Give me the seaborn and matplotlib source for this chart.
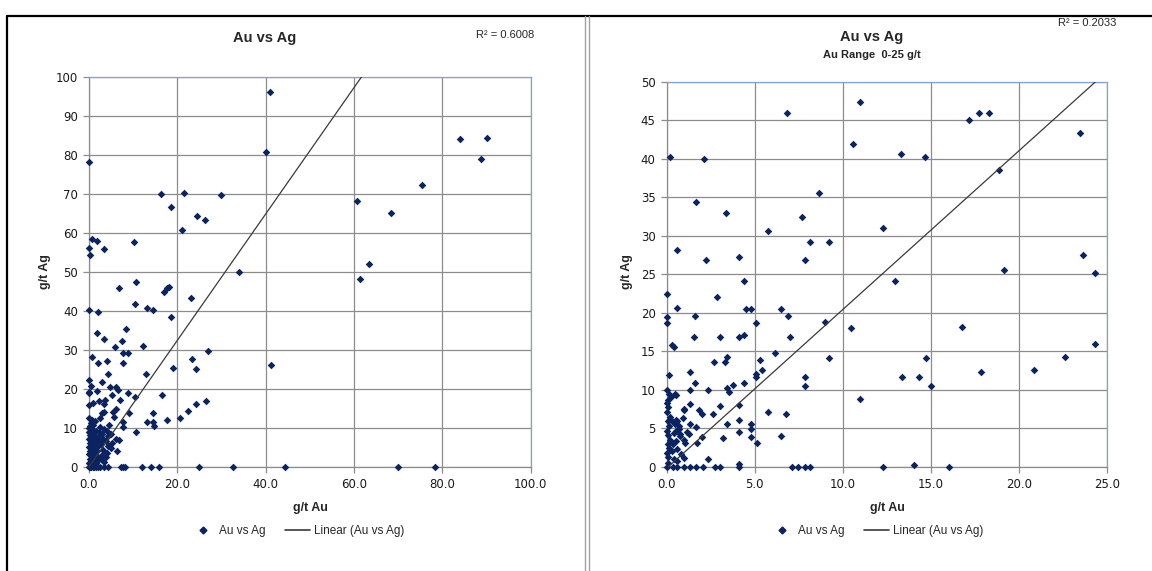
import numpy as np
import pandas as pd
import matplotlib
matplotlib.use("Agg")
import matplotlib.pyplot as plt
from matplotlib.lines import Line2D
import seaborn as sns

# ── Data ─────────────────────────────────────────────────────────────────────
# left chart: all samples
au_all = [0, 41.0, 40.0, 16.4, 21.4, 29.9, 18.6, 24.5, 26.3, 21.0, 0.6, 1.9, 10.3, 0, 3.5, 0.3,
          34.0, 6.7, 10.7, 17.0, 17.6, 18.1, 23.2, 10.4, 13.1, 14.4, 0, 2.0, 18.6, 1.7, 8.4, 3.3,
          7.5, 5.8, 12.2, 7.8, 8.9, 26.9, 0.7, 2.0, 4.0, 7.7, 23.3, 41.2, 19.0, 24.2, 4.2, 12.8,
          0, 2.9, 0.4, 4.8, 6.1, 6.6, 0, 1.7, 8.9, 0, 5.1, 16.6, 10.4, 26.4, 24.2, 1.0, 2.2, 3.6,
          7.0, 3.4, 0, 22.5, 20.7, 14.6, 9.0, 17.6, 6.2, 5.5, 3.0, 3.5, 0.6, 13.1, 14.4, 14.8,
          7.7, 7.7, 10.7, 0, 6.2, 6.7, 6.3,
          84.1, 90.2, 88.7, 75.5, 60.7, 68.3, 63.4, 61.4,
          0, 0.2, 0.5, 0.8, 1.1, 1.5, 2.0, 2.6, 3.5, 4.2, 7.2, 7.8, 8.2, 12.1, 14.0, 15.9, 24.8,
          32.5, 44.4, 70.0, 78.4,
          0.1, 0.2, 0.1, 0.3, 0.0, 0.2, 0.1, 0.3, 0.0, 0.2, 0.4, 0.1, 0.6, 0.7, 0.5, 0.8, 0.6,
          0.9, 0.5, 0.8, 0.6, 1.0, 1.2, 1.3, 1.1, 1.4, 1.2, 1.5, 1.3, 1.6, 1.4, 1.9, 2.0, 1.8,
          2.1, 2.3, 2.0, 2.2, 2.5, 2.4, 2.8, 2.9, 3.1, 2.7, 3.2, 3.0, 3.3, 3.8, 4.0, 4.3, 3.9,
          4.4, 4.1, 4.6, 5.0, 5.3, 4.9, 5.6, 0.4, 1.6, 3.4]
ag_all = [78.2, 96.2, 80.8, 69.8, 70.3, 69.7, 66.5, 64.3, 63.2, 60.7, 58.4, 57.9, 57.6, 56.2, 55.9, 54.3,
          50.0, 45.8, 47.3, 44.7, 45.7, 46.0, 43.3, 41.7, 40.6, 40.1, 40.1, 39.7, 38.3, 34.2, 35.2, 32.8,
          32.2, 30.6, 30.9, 29.1, 29.1, 29.7, 28.1, 26.7, 27.1, 26.7, 27.5, 26.1, 25.2, 25.0, 23.8, 23.8,
          22.2, 21.8, 20.8, 20.4, 20.4, 19.6, 19.1, 19.3, 19.0, 18.8, 18.4, 18.3, 17.8, 16.9, 16.2, 16.4, 16.8, 17.0,
          17.0, 16.2, 15.8, 14.3, 12.6, 13.8, 13.8, 12.1, 14.7, 14.1, 13.8, 14.0, 12.0, 11.5, 11.5, 10.5,
          11.4, 10.3, 8.8, 9.9, 7.0, 6.8, 4.0,
          84.1, 84.4, 78.8, 72.2, 68.2, 65.1, 52.1, 48.1,
          0, 0, 0, 0, 0, 0, 0, 0, 0, 0, 0, 0, 0, 0, 0, 0, 0,
          0, 0, 0, 0,
          1.0, 2.1, 3.2, 4.0, 5.1, 6.0, 7.2, 8.1, 9.0, 10.5, 11.2, 12.5, 1.5, 2.8, 3.6, 4.6, 5.5,
          6.4, 7.5, 8.6, 9.6, 10.8, 0.8, 2.2, 3.4, 4.3, 5.9, 6.8, 7.9, 9.2, 11.6, 1.4, 2.6, 3.9,
          5.2, 6.4, 7.6, 8.8, 10.1, 12.4, 1.9, 3.1, 4.4, 5.8, 7.0, 8.3, 9.7, 2.4, 3.6, 5.2, 6.6,
          7.9, 9.2, 10.6, 4.7, 6.0, 8.4, 12.8, 0.4, 1.0, 1.2]

# right chart: Au 0-25 g/t
au_low = [10.97, 6.82, 10.57, 0.19, 2.12, 8.66, 1.67, 3.39, 7.67, 5.74, 8.16, 9.2, 0.61, 7.86, 2.22,
          4.09, 4.39, 0, 2.84, 0.57, 4.5, 4.8, 6.5, 0, 0, 1.63, 6.88, 5.08, 8.98, 10.45, 1.55, 3.05,
          4.09, 4.39, 7.0, 0.3, 0.4, 6.14, 5.32, 9.2, 2.67, 3.33, 3.43, 5.44, 1.31, 0.13, 5.08, 5.08,
          7.86, 7.86, 1.63, 4.39, 0, 0.13, 0.05, 1.33, 2.37, 3.4, 3.55, 3.75, 0.45, 0.5, 1.33, 3.05,
          0.98, 1.0, 1.86, 2.0, 2.63, 4.09, 5.74, 6.76, 0, 0.5, 0.6, 0.9, 4.09, 1.33, 1.67, 3.43,
          4.8, 4.8, 4.09, 0.7, 0.75, 1.14, 1.25, 3.2, 4.8, 2.03, 6.5, 1.7, 5.13, 1.0, 1.04, 2.37, 0.98,
          17.2, 17.75, 18.31, 23.49, 13.29, 14.68, 18.86, 12.31, 23.64, 19.16, 24.32, 12.99, 16.78,
          24.32, 22.65, 14.73, 20.89, 13.37, 14.35, 17.84, 15.02, 10.98,
          0.04, 0.38, 0.6, 0.98, 1.33, 1.67, 2.05, 2.75, 3.03, 4.09, 4.13, 7.14, 7.48, 7.86, 8.16,
          12.31, 14.03, 16.06,
          0.05, 0.1, 0.0, 0.15, 0.05, 0.2, 0.1, 0.0, 0.15, 0.05, 0.2, 0.1, 0.0, 0.25, 0.3, 0.35,
          0.4, 0.45, 0.3, 0.5, 0.6, 0.55, 0.7, 0.75, 0.4, 0.6, 0.8]
ag_low = [47.4, 46.0, 41.9, 40.2, 39.9, 35.5, 34.4, 33.0, 32.4, 30.6, 29.2, 29.2, 28.2, 26.8, 26.8,
          27.2, 24.1, 22.4, 22.0, 20.6, 20.5, 20.5, 20.5, 19.4, 18.6, 19.6, 19.6, 18.6, 18.8, 18.0, 16.8, 16.9,
          16.9, 17.1, 16.9, 15.8, 15.5, 14.8, 13.9, 14.1, 13.6, 13.6, 14.2, 12.6, 12.3, 11.9, 12.0, 11.7,
          11.7, 10.5, 10.9, 10.9, 10.0, 9.5, 8.7, 10.0, 10.0, 10.2, 9.7, 10.6, 9.4, 9.3, 8.2, 7.9,
          7.4, 7.5, 7.4, 6.9, 6.9, 8.0, 7.1, 6.9, 7.1, 6.1, 5.9, 6.3, 6.1, 5.5, 5.1, 5.5,
          5.5, 4.9, 4.5, 4.9, 4.3, 4.5, 4.2, 3.7, 3.8, 3.8, 4.0, 3.1, 3.1, 3.5, 3.1, 1.0, 1.1,
          45.0, 45.9, 45.9, 43.4, 40.6, 40.2, 38.5, 31.0, 27.5, 25.5, 25.1, 24.1, 18.2,
          16.0, 14.3, 14.1, 12.6, 11.7, 11.7, 12.3, 10.5, 8.8,
          0, 0, 0, 0, 0, 0, 0, 0, 0, 0.3, 0, 0, 0, 0, 0,
          0, 0.2, 0,
          0.5, 1.2, 1.8, 2.4, 3.0, 3.5, 4.1, 4.7, 5.3, 5.9, 6.5, 7.8, 8.3, 9.0, 2.0, 2.9,
          4.4, 5.6, 6.0, 3.3, 2.3, 4.7, 5.3, 4.0, 1.0, 0.7, 1.6]

# Excel linear trendlines (slope, intercept) and R² labels
trend_all = (1.62, 0.0)
trend_low = (2.06, -0.2)
r2_all = "R² = 0.6008"
r2_low = "R² = 0.2033"

# ── Style ────────────────────────────────────────────────────────────────────
sns.set_style("white")
plt.rcParams["font.family"] = ["DejaVu Sans"]
TITLE_FONT = ["Liberation Sans Narrow", "Liberation Sans", "DejaVu Sans"]
NAVY = "#0B2461"
GRID = "#8C8C8C"
EDGE = "#86A3CF"

W, H = 1152, 571
fig = plt.figure(figsize=(W / 100, H / 100), dpi=100)


def fx(px):
    return px / W


def fy(py):
    return 1 - py / H


def draw_panel(rect, au, ag, trend, xmax, xstep, ymax, ystep):
    ax = fig.add_axes(rect)
    df = pd.DataFrame({"au": au, "ag": ag})
    sns.scatterplot(data=df, x="au", y="ag", ax=ax, marker="D", s=15,
                    color=NAVY, edgecolor=NAVY, linewidth=0, zorder=3, legend=False,
                    clip_on=False)
    xs = np.array([0.0, xmax])
    line = pd.DataFrame({"x": xs, "y": trend[0] * xs + trend[1]})
    sns.lineplot(data=line, x="x", y="y", ax=ax, color="#3A3A3A", lw=0.9, zorder=4)
    ax.set_xlim(0, xmax)
    ax.set_ylim(0, ymax)
    ax.set_xticks(np.arange(0, xmax + 0.01, xstep))
    ax.set_yticks(np.arange(0, ymax + 0.01, ystep))
    ax.set_xticklabels([f"{v:.1f}" for v in ax.get_xticks()])
    ax.set_yticklabels([f"{v:.0f}" for v in ax.get_yticks()])
    ax.grid(True, color=GRID, lw=0.9)
    ax.set_axisbelow(True)
    ax.tick_params(axis="both", length=4, width=0.9, color=GRID, labelsize=8.5,
                   labelcolor="#1A1A1A", pad=4, bottom=True, left=True)
    for s in ["left", "bottom"]:
        ax.spines[s].set_color(GRID)
        ax.spines[s].set_linewidth(0.9)
    for s in ["top", "right"]:
        ax.spines[s].set_color(EDGE)
        ax.spines[s].set_linewidth(0.9)
    ax.set_xlabel("")
    ax.set_ylabel("")
    return ax


# left chart
axL = draw_panel([fx(89), fy(466.7), fx(530.7) - fx(89), fy(76.7) - fy(466.7)],
                 au_all, ag_all, trend_all, 100, 20, 100, 10)
# right chart
axR = draw_panel([fx(666.7), fy(466.7), fx(1106.7) - fx(666.7), fy(81.7) - fy(466.7)],
                 au_low, ag_low, trend_low, 25, 5, 50, 5)

# titles / labels
fig.text(fx(265), fy(38), "Au vs Ag", ha="center", va="center", fontsize=10.5,
         fontweight="bold", family=TITLE_FONT)
fig.text(fx(505), fy(35), r2_all, ha="center", va="center", fontsize=8, family=TITLE_FONT)
fig.text(fx(872), fy(37), "Au vs Ag", ha="center", va="center", fontsize=10.5,
         fontweight="bold", family=TITLE_FONT)
fig.text(fx(872), fy(55), "Au Range  0-25 g/t", ha="center", va="center", fontsize=8,
         fontweight="bold", family=TITLE_FONT)
fig.text(fx(1087), fy(23), r2_low, ha="center", va="center", fontsize=8, family=TITLE_FONT)

for cx in (310, 887):
    fig.text(fx(cx), fy(508), "g/t Au", ha="center", va="center", fontsize=9,
             fontweight="bold", family=TITLE_FONT)
for cx in (45, 627):
    fig.text(fx(cx), fy(272), "g/t Ag", ha="center", va="center", fontsize=9,
             fontweight="bold", rotation=90, family=TITLE_FONT)

# legends
handles = [Line2D([], [], ls="none", marker="D", ms=3.5, color=NAVY),
           Line2D([], [], color="#3A3A3A", lw=1.2)]
names = ["Au vs Ag", "Linear (Au vs Ag)"]
for cx in (297, 876):
    fig.legend(handles, names, loc="center", bbox_to_anchor=(fx(cx), fy(531)), ncol=2,
               frameon=False, handlelength=2.2, handletextpad=0.3,
               columnspacing=1.6, prop={"family": TITLE_FONT, "size": 8.5})

# panel frames
fig.add_artist(Line2D([fx(7), fx(1152)], [fy(16), fy(16)], color="black", lw=1.6))
fig.add_artist(Line2D([fx(7), fx(7)], [fy(16), fy(575)], color="black", lw=1.6))
for px in (585, 589):
    fig.add_artist(Line2D([fx(px), fx(px)], [fy(16), fy(575)], color="#A0A0A0", lw=1.0))

fig.savefig("out.png", dpi=100)
plt.close(fig)
